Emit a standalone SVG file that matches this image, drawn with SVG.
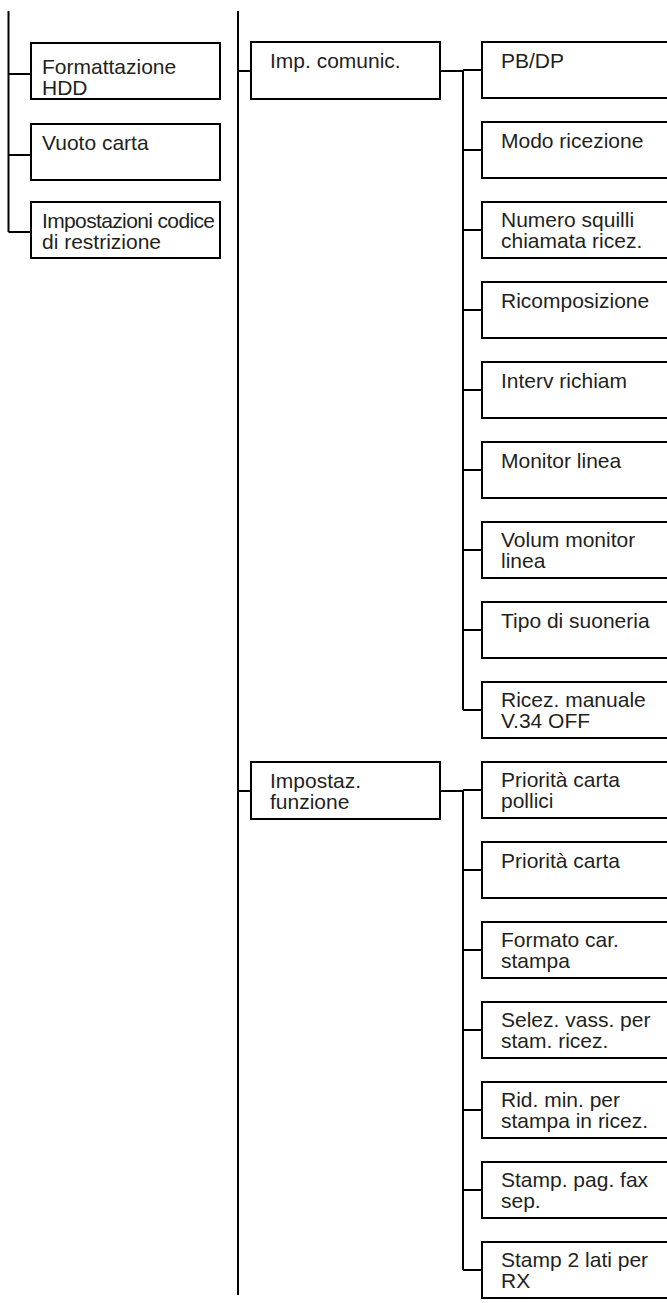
<svg xmlns="http://www.w3.org/2000/svg" width="667" height="1303" viewBox="0 0 667 1303">
<style>
.b{fill:#fff;stroke:#000;stroke-width:2}
.c{fill:none;stroke:#000;stroke-width:2}
text{font-family:"Liberation Sans",Arial,sans-serif;font-size:21px;fill:#231f20}
</style>
<rect width="667" height="1303" fill="#fff"/>
<g id="connectors">
<path class="c" d="M8.5 11V232M8.5 74H31M8.5 155H31M8.5 232H31"/>
<path class="c" d="M238 11V1295M238 71H251M238 791H251"/>
<path class="c" d="M440 71H463M463 71V710M440 791H463M463 791V1270"/>
<path class="c" d="M463 70H482M463 150H482M463 230H482M463 310H482M463 390H482M463 470H482M463 550H482M463 630H482M463 710H482"/>
<path class="c" d="M463 790H482M463 870H482M463 950H482M463 1030H482M463 1110H482M463 1190H482M463 1270H482"/>
</g>
<g id="n-formattazione"><rect class="b" x="31" y="43" width="189" height="56"/><text x="42" y="74">Formattazione</text><text x="42" y="95">HDD</text></g>
<g id="n-vuoto"><rect class="b" x="31" y="124" width="189" height="56"/><text x="42" y="150">Vuoto carta</text></g>
<g id="n-impcodice"><rect class="b" x="31" y="202" width="189" height="56"/><text x="42" y="228" textLength="173" lengthAdjust="spacing">Impostazioni codice</text><text x="42" y="249">di restrizione</text></g>
<g id="n-impcomunic"><rect class="b" x="251" y="42" width="189" height="57"/><text x="270" y="68">Imp. comunic.</text></g>
<g id="n-impfunzione"><rect class="b" x="251" y="762" width="189" height="57"/><text x="270" y="788">Impostaz.</text><text x="270" y="809">funzione</text></g>
<g id="n-pbdp"><rect class="b" x="482" y="42" width="200" height="56"/><text x="501" y="68">PB/DP</text></g>
<g id="n-modo"><rect class="b" x="482" y="122" width="200" height="56"/><text x="501" y="148">Modo ricezione</text></g>
<g id="n-numero"><rect class="b" x="482" y="202" width="200" height="56"/><text x="501" y="227">Numero squilli</text><text x="501" y="248">chiamata ricez.</text></g>
<g id="n-ricomp"><rect class="b" x="482" y="282" width="200" height="56"/><text x="501" y="308">Ricomposizione</text></g>
<g id="n-interv"><rect class="b" x="482" y="362" width="200" height="56"/><text x="501" y="388">Interv richiam</text></g>
<g id="n-monitor"><rect class="b" x="482" y="442" width="200" height="56"/><text x="501" y="468">Monitor linea</text></g>
<g id="n-volum"><rect class="b" x="482" y="522" width="200" height="56"/><text x="501" y="547">Volum monitor</text><text x="501" y="568">linea</text></g>
<g id="n-tipo"><rect class="b" x="482" y="602" width="200" height="56"/><text x="501" y="628">Tipo di suoneria</text></g>
<g id="n-ricez"><rect class="b" x="482" y="682" width="200" height="56"/><text x="501" y="707">Ricez. manuale</text><text x="501" y="728">V.34 OFF</text></g>
<g id="n-prioritapollici"><rect class="b" x="482" y="762" width="200" height="56"/><text x="501" y="787">Priorità carta</text><text x="501" y="808">pollici</text></g>
<g id="n-priorita"><rect class="b" x="482" y="842" width="200" height="56"/><text x="501" y="868">Priorità carta</text></g>
<g id="n-formato"><rect class="b" x="482" y="922" width="200" height="56"/><text x="501" y="947">Formato car.</text><text x="501" y="968">stampa</text></g>
<g id="n-selez"><rect class="b" x="482" y="1002" width="200" height="56"/><text x="501" y="1027">Selez. vass. per</text><text x="501" y="1048">stam. ricez.</text></g>
<g id="n-rid"><rect class="b" x="482" y="1082" width="200" height="56"/><text x="501" y="1107">Rid. min. per</text><text x="501" y="1128">stampa in ricez.</text></g>
<g id="n-stamppag"><rect class="b" x="482" y="1162" width="200" height="56"/><text x="501" y="1187">Stamp. pag. fax</text><text x="501" y="1208">sep.</text></g>
<g id="n-stamp2"><rect class="b" x="482" y="1242" width="200" height="56"/><text x="501" y="1267">Stamp 2 lati per</text><text x="501" y="1288">RX</text></g>
</svg>
